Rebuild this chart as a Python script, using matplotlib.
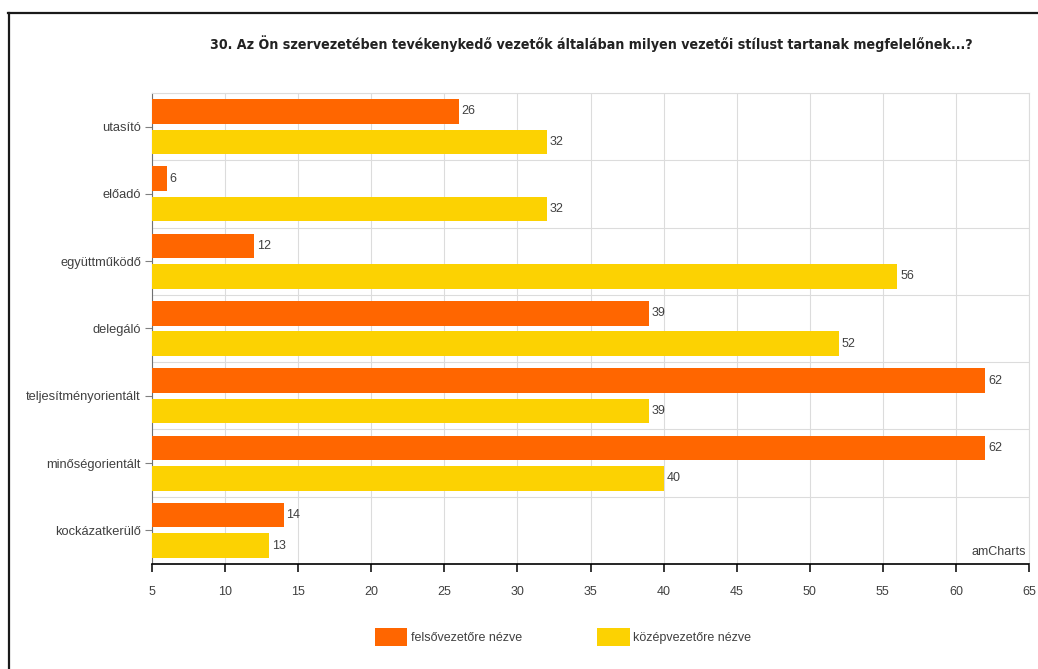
import matplotlib
matplotlib.use("Agg")
import matplotlib.pyplot as plt
from matplotlib.patches import Patch
from matplotlib.lines import Line2D
from matplotlib import font_manager
from matplotlib.font_manager import FontProperties
import numpy as np

categories = ["utasító", "előadó", "együttműködő", "delegáló",
              "teljesítményorientált", "minőségorientált", "kockázatkerülő"]
felso = [26, 6, 12, 39, 62, 62, 14]
kozep = [32, 32, 56, 52, 39, 40, 13]
series_names = ["felsővezetőre nézve", "középvezetőre nézve"]
x_ticks = [5, 10, 15, 20, 25, 30, 35, 40, 45, 50, 55, 60, 65]
title = ("30. Az Ön szervezetében tevékenykedő vezetők általában milyen "
         "vezetői stílust tartanak megfelelőnek...?")

ORANGE = "#FF6600"
YELLOW = "#FCD202"
TEXT = "#404040"
GRID = "#DCDCDC"

fonts = font_manager.fontManager.ttflist
names = {f.name for f in fonts}
body_font = "Liberation Sans" if "Liberation Sans" in names else "DejaVu Sans"
plt.rcParams["font.family"] = [body_font, "DejaVu Sans"]

# prefer a condensed bold face for the heading when one is installed
title_prop = None
for f in fonts:
    fn = f.fname.lower()
    if ("narrow" in fn or "condensed" in fn) and "bold" in fn and "oblique" not in fn \
            and "italic" not in fn and "mono" not in fn and "serif" not in fn.replace("sans", ""):
        title_prop = FontProperties(fname=f.fname)
        break
if title_prop is None:
    title_prop = FontProperties(family=body_font, weight="bold")

W, H = 1038, 669
fig = plt.figure(figsize=(W / 100, H / 100), dpi=100)
ax = fig.add_axes([152 / W, 1 - 564 / H, (1029 - 152) / W, (564 - 93) / H])

y = np.arange(len(categories))
off, bh = 0.227, 0.365
ax.barh(y - off, felso, height=bh, left=0, color=ORANGE, zorder=3)
ax.barh(y + off, kozep, height=bh, left=0, color=YELLOW, zorder=3)

FS = 9
for yi, v in zip(y - off, felso):
    ax.annotate(str(v), (v, yi), xytext=(2, 0), textcoords="offset points",
                va="center", ha="left", fontsize=FS, color=TEXT, zorder=4)
for yi, v in zip(y + off, kozep):
    ax.annotate(str(v), (v, yi), xytext=(2, 0), textcoords="offset points",
                va="center", ha="left", fontsize=FS, color=TEXT, zorder=4)

ax.set_xlim(5, 65)
ax.set_ylim(len(categories) - 0.5, -0.5)
ax.set_xticks(x_ticks)
ax.set_xticklabels([str(t) for t in x_ticks], fontsize=FS, color=TEXT)
ax.set_yticks(y)
ax.set_yticklabels(categories, fontsize=9.3, color=TEXT)
ax.set_yticks(np.arange(-0.5, len(categories), 1), minor=True)

ax.tick_params(axis="x", which="major", length=6, width=1.1, color="black", pad=10)
ax.tick_params(axis="y", which="major", length=5, width=0.8, color="#808080", pad=3)
ax.tick_params(axis="y", which="minor", length=0)

ax.grid(axis="x", which="major", color=GRID, lw=0.8, zorder=0)
ax.grid(axis="y", which="minor", color=GRID, lw=0.8, zorder=0)

for s in ("top", "right"):
    ax.spines[s].set_color(GRID)
    ax.spines[s].set_linewidth(0.8)
ax.spines["left"].set_color("#707070")
ax.spines["left"].set_linewidth(0.8)
ax.spines["bottom"].set_color("black")
ax.spines["bottom"].set_linewidth(1.2)

ax.text(0.997, 0.012, "amCharts", transform=ax.transAxes, ha="right", va="bottom",
        fontsize=FS, color=TEXT)

# heading, sized to span its line
t = fig.text(591 / W, 1 - 44 / H, title, ha="center", va="center",
             fontproperties=title_prop, color="#222222")
t.set_fontsize(11)
fig.canvas.draw()
tw = t.get_window_extent().width
t.set_fontsize(11 * 764 / tw)

handles = [Patch(facecolor=ORANGE, edgecolor="none"),
           Patch(facecolor=YELLOW, edgecolor="none")]
fig.legend(handles, series_names, loc="center", ncol=2,
           bbox_to_anchor=(563 / W, 1 - 637 / H), frameon=False,
           fontsize=FS, labelcolor=TEXT, handlelength=2.6, handleheight=1.8,
           handletextpad=0.3, columnspacing=6.0, borderpad=0)

# page frame lines
fig.add_artist(Line2D([8 / W, 1], [1 - 13 / H, 1 - 13 / H], color="#1a1a1a", lw=1.6))
fig.add_artist(Line2D([8.5 / W, 8.5 / W], [0, 1 - 13 / H], color="#1a1a1a", lw=1.6))

fig.savefig("out.png", dpi=100)
